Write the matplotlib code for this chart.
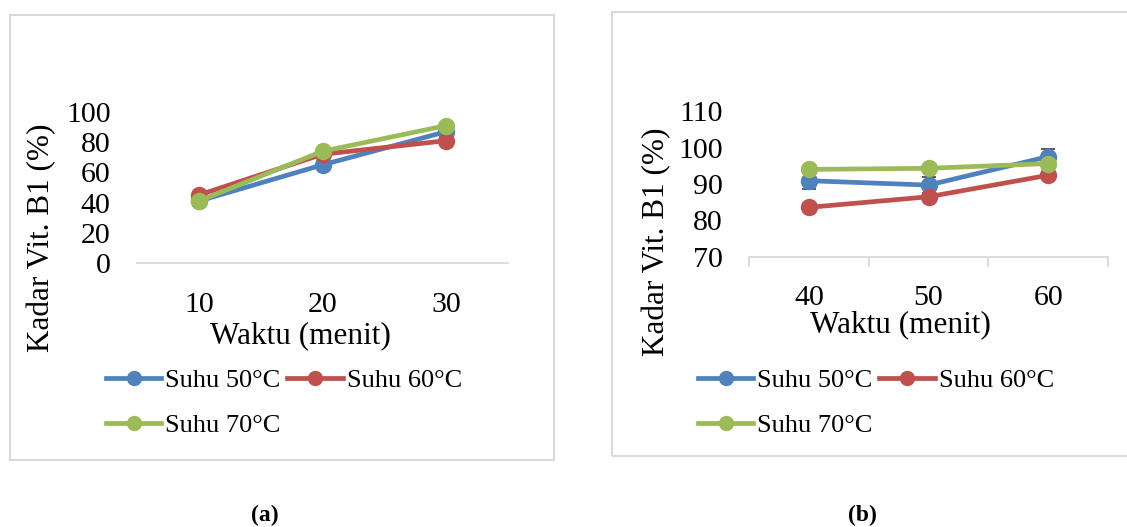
import matplotlib
matplotlib.use("Agg")
import matplotlib.pyplot as plt
from matplotlib.patches import Rectangle
from matplotlib.lines import Line2D

plt.rcParams["font.family"] = ["Liberation Serif", "DejaVu Serif"]

# ---- data ----
series_labels = ["Suhu 50°C", "Suhu 60°C", "Suhu 70°C"]
colors = ["#4F81BD", "#C0504D", "#9BBB59"]

time_a = ["10", "20", "30"]
suhu50_a = [41, 65, 87]
suhu60_a = [45, 72, 81]
suhu70_a = [41, 74, 91]

time_b = ["40", "50", "60"]
suhu50_b = [90.9, 89.7, 97.5]
suhu60_b = [83.6, 86.5, 92.4]
suhu70_b = [94.0, 94.3, 95.6]
err50_b = [2.3, 2.3, 2.1]

W, H = 1127, 527
fig = plt.figure(figsize=(W / 100, H / 100), dpi=100)


def px_axes(x0, y0, x1, y1):
    """axes from pixel box (top-left origin)"""
    return fig.add_axes([x0 / W, 1 - y1 / H, (x1 - x0) / W, (y1 - y0) / H])


def frame(x0, y0, x1, y1):
    fig.patches.append(Rectangle((x0 / W, 1 - y1 / H), (x1 - x0) / W, (y1 - y0) / H,
                                 transform=fig.transFigure, fill=False,
                                 edgecolor="#d9d9d9", lw=1.5))


def style_axes(ax):
    for s in ("left", "right", "top"):
        ax.spines[s].set_visible(False)
    ax.spines["bottom"].set_color("#d9d9d9")
    ax.spines["bottom"].set_linewidth(1.3)
    ax.set_facecolor("none")


def draw_lines(ax, ys, errs=None):
    x = range(len(ys[0]))
    for i, (y, c) in enumerate(zip(ys, colors)):
        if errs is not None and errs[i] is not None:
            ax.errorbar(x, y, yerr=errs[i], fmt="none", ecolor="#404040",
                        elinewidth=1.0, capsize=5, capthick=1.2, zorder=2 + i,
                        clip_on=False)
        ax.plot(x, y, color=c, lw=3.4, marker="o", ms=11.5, zorder=3 + i,
                clip_on=False, solid_capstyle="round")


def legend(x, y):
    h = [Line2D([], [], color=c, lw=3.4, marker="o", ms=10) for c in colors]
    order = [0, 2, 1]  # fills column-major -> rows: 50,60 / 70
    fig.legend([h[i] for i in order], [series_labels[i] for i in order],
               ncol=2, loc="upper left", bbox_to_anchor=(x / W, 1 - y / H),
               frameon=False, fontsize=19, handlelength=2.1, handletextpad=0.15,
               columnspacing=0.25, labelspacing=0.8, borderpad=0, borderaxespad=0)


# ---- panel (a) ----
frame(10, 15, 554, 460)
ax1 = px_axes(137, 112, 508, 263)
style_axes(ax1)
draw_lines(ax1, [suhu50_a, suhu60_a, suhu70_a])
ax1.set_xlim(-0.5, 2.5)
ax1.set_ylim(0, 100)
ax1.set_yticks([0, 20, 40, 60, 80, 100])
ax1.set_xticks(range(3))
ax1.set_xticklabels(time_a)
ax1.tick_params(axis="both", length=0, labelsize=21.5)
ax1.tick_params(axis="x", pad=21)
ax1.tick_params(axis="y", pad=19)
fig.text(300 / W, 1 - 336 / H, "Waktu (menit)", fontsize=22.5, ha="center", va="center")
fig.text(42 / W, 1 - 238 / H, "Kadar Vit. B1 (%)", fontsize=22.5, ha="center",
         va="center", rotation=90)
legend(106, 369)
fig.text(265 / W, 1 - 515 / H, "(a)", fontsize=17, fontweight="bold",
         ha="center", va="center")

# ---- panel (b) ----
frame(612, 12, 1140, 456)
ax2 = px_axes(749, 111, 1108, 257)
style_axes(ax2)
draw_lines(ax2, [suhu50_b, suhu60_b, suhu70_b], errs=[err50_b, None, None])
ax2.set_xlim(-0.5, 2.5)
ax2.set_ylim(70, 110)
ax2.set_yticks([70, 80, 90, 100, 110])
ax2.set_xticks(range(3))
ax2.set_xticklabels(time_b)
ax2.set_xticks([-0.5, 0.5, 1.5, 2.5], minor=True)
ax2.tick_params(axis="both", which="major", length=0, labelsize=21.5)
ax2.tick_params(axis="x", which="minor", length=7, width=1.3, color="#d9d9d9")
ax2.tick_params(axis="x", which="major", pad=20)
ax2.tick_params(axis="y", pad=19)
fig.text(900 / W, 1 - 325 / H, "Waktu (menit)", fontsize=22.5, ha="center", va="center")
fig.text(657 / W, 1 - 242 / H, "Kadar Vit. B1 (%)", fontsize=22.5, ha="center",
         va="center", rotation=90)
legend(698, 369)
fig.text(862 / W, 1 - 515 / H, "(b)", fontsize=17, fontweight="bold",
         ha="center", va="center")

fig.savefig("out.png", dpi=100, facecolor="white")
